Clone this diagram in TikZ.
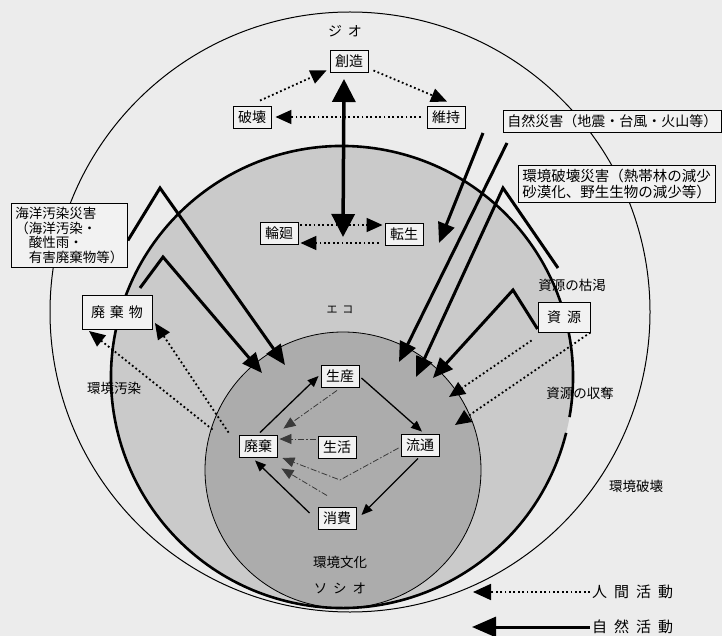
\documentclass[tikz,border=0pt]{standalone}
\usepackage{fontspec}
\setmainfont{Noto Sans CJK JP}
\usetikzlibrary{arrows.meta}
\pgfdeclarelayer{bglayer}
\pgfsetlayers{bglayer,main}
\definecolor{paper}{HTML}{ECECEC}
\definecolor{ecofill}{HTML}{CACACA}
\definecolor{sociofill}{HTML}{ACACAC}
\definecolor{boxfill}{HTML}{F2F2F2}
\definecolor{lifeline}{HTML}{3A3A3A}
\begin{document}
\begin{tikzpicture}[x=1pt,y=-1pt,
  box/.style={draw=black, line width=0.9pt, fill=boxfill, font=\fontsize{14}{16}\selectfont, inner xsep=5pt, inner ysep=2pt, minimum height=22pt},
  tbox/.style={draw=black, line width=0.9pt, fill=boxfill, align=left, inner xsep=4pt, inner ysep=3pt},
  lbl/.style={font=\fontsize{13.5}{15}\selectfont, inner sep=0pt},
  hum/.style={line width=1.8pt, dash pattern=on 1.8pt off 2.6pt, -{Triangle[length=16pt,width=14pt]}},
  nat/.style={line width=3pt, line join=miter, -{Triangle[length=20pt,width=17pt]}},
  cyc/.style={line width=1.3pt, -{Triangle[length=11pt,width=9pt]}},
  life/.style={line width=0.8pt, draw=lifeline, dash pattern=on 6pt off 2pt on 1.5pt off 2pt, -{Triangle[length=12pt,width=10pt]}},
]
\useasboundingbox (0,0) rectangle (722,636);
\clip (0,0) rectangle (722,636);

% nodes
\node[box] (sozo) at (349,61) {創造};
\node[box] (hakai) at (252,117) {破壊};
\node[box] (iji) at (446,117) {維持};
\node[box] (rinne) at (279,233) {輪廻};
\node[box] (tensei) at (404,234) {転生};
\node[box] (seisan) at (340,376) {生産};
\node[box] (seikatsu) at (337,447) {生活};
\node[box] (haiki) at (258,446) {廃棄};
\node[box] (ryutsu) at (420,445) {流通};
\node[box] (shohi) at (337,518) {消費};
\node[box, minimum height=34pt, minimum width=70pt] (haikibutsu) at (117,312) {廃\hspace{5pt}棄\hspace{5pt}物};
\node[box, minimum height=30pt, minimum width=52pt] (shigen) at (564,317) {資\hspace{6pt}源};
\node[tbox, anchor=west, minimum height=22pt, font=\fontsize{14}{16}\selectfont] (shizen) at (503,121) {自然災害（地震・台風・火山等）};
\node[tbox, anchor=north west, minimum height=37pt, font=\fontsize{14.5}{15.5}\selectfont] (kankyo) at (518,165) {環境破壊災害（熱帯林の減少\\砂漠化、野生生物の減少等）};
\node[tbox, anchor=north west, minimum width=116pt, minimum height=64pt, font=\fontsize{13.5}{14.5}\selectfont] (kaiyo) at (11,203) {海洋汚染災害\\（海洋汚染・\\\hspace*{1em}酸性雨・\\\hspace*{1em}有害廃棄物等）};

% text labels
\node[lbl, font=\fontsize{14}{16}\selectfont] (geo) at (345,31) {ジ\hspace{6pt}オ};
\node[lbl, font=\fontsize{11}{13}\selectfont] (eco) at (340,310) {エ\hspace{5pt}コ};
\node[lbl] (bunka) at (340,562) {環境文化};
\node[lbl] (socio) at (340,588) {ソ\hspace{6pt}シ\hspace{6pt}オ};
\node[lbl] (kokatsu) at (572,285) {資源の枯渇};
\node[lbl] (shudatsu) at (580,393) {資源の収奪};
\node[lbl] (hakaiL) at (636,486) {環境破壊};
\node[lbl] (osen) at (114,388) {環境汚染};
\node[lbl, font=\fontsize{15}{17}\selectfont, anchor=west] (legH) at (592,592) {人\hspace{7pt}間\hspace{7pt}活\hspace{7pt}動};
\node[lbl, font=\fontsize{15}{17}\selectfont, anchor=west] (legN) at (592,627) {自\hspace{7pt}然\hspace{7pt}活\hspace{7pt}動};

% coordinates for free ends
\coordinate (bigtop) at (344,79);
\coordinate (bigbot) at (343,237);
\coordinate (aPeak) at (160,188);
\coordinate (aTip) at (285,365);
\coordinate (bStart) at (140,288);
\coordinate (bPeak) at (163,257);
\coordinate (bTip) at (262,373);
\coordinate (l1Start) at (483,133);
\coordinate (l1Tip) at (439,243);
\coordinate (l2Start) at (507,143);
\coordinate (l2Tip) at (399,362);
\coordinate (l3Start) at (558,268);
\coordinate (l3Peak) at (503,188);
\coordinate (l3Tip) at (416,377);
\coordinate (l4Peak) at (513,290);
\coordinate (l4Tip) at (433,378);
\coordinate (d1Tip) at (155,323);
\coordinate (d2Tip) at (89,331);
\coordinate (r1Tip) at (455,425);
\coordinate (r2Tip) at (449,397);
\coordinate (legHtip) at (473,592);
\coordinate (legNtip) at (472,627);
\coordinate (bendR) at (340,480);

\begin{pgfonlayer}{bglayer}
\fill[paper] (0,0) rectangle (722,636);
% spheres
\draw[line width=1pt] (350,312) circle[radius=300];
\fill[ecofill] (342,377) circle[radius=231];
\fill[sociofill] (343,470) circle[radius=138];
\draw[line width=0.8pt] (343,470) circle[radius=138];
\draw[line width=2.6pt] ([shift={(14:231)}]342,377) arc[start angle=14, end angle=370, radius=231];

% natural activity (solid thick)
\draw[line width=3.5pt, {Triangle[length=23pt,width=23pt]}-{Triangle[length=23pt,width=23pt]}] (bigtop) -- (bigbot);
\draw[nat] ([yshift=-5pt]kaiyo.east) -- (aPeak) -- (aTip);
\draw[nat] (bStart) -- (bPeak) -- (bTip);
\draw[nat] (l1Start) -- (l1Tip);
\draw[nat] (l2Start) -- (l2Tip);
\draw[nat] (l3Start) -- (l3Peak) -- (l3Tip);
\draw[nat] ([yshift=-12pt]shigen.west) -- (l4Peak) -- (l4Tip);

% human activity (dotted)
\draw[hum] ([shift={(8,-5)}]hakai.north) -- ([shift={(-3,-2)}]sozo.south west);
\draw[hum] ([shift={(5,-2)}]sozo.south east) -- ([shift={(1,-4)}]iji.north);
\draw[hum] ([shift={(-6,0)}]iji.west) -- ([shift={(4,0)}]hakai.east);
\draw[hum] ([shift={(2,-8)}]rinne.east) -- ([shift={(-2,-9)}]tensei.west);
\draw[hum] ([shift={(-6,9)}]tensei.west) -- ([shift={(2,10)}]rinne.east);
\draw[hum] ([shift={(-10,-2)}]haiki.north west) -- (d1Tip);
\draw[hum] ([shift={(-26,-5)}]haiki.north west) -- (d2Tip);
\draw[hum] (shigen.south east) -- (r1Tip);
\draw[hum] ([shift={(-6,8)}]shigen.south west) -- (r2Tip);

% production cycle
\draw[cyc] ([shift={(2,-2)}]haiki.north) -- ([shift={(-2,0)}]seisan.west);
\draw[cyc] ([shift={(2,2)}]seisan.east) -- ([shift={(2,-2)}]ryutsu.north);
\draw[cyc] ([shift={(-2,2)}]ryutsu.south) -- ([shift={(5,-3)}]shohi.east);
\draw[cyc] ([shift={(-8,-5)}]shohi.west) -- ([shift={(-3,3)}]haiki.south);

% life connections
\draw[life] ([shift={(-3,3)}]seisan.south) -- ([shift={(6,-6)}]haiki.north east);
\draw[life] ([shift={(-2,-8)}]seikatsu.west) -- ([shift={(2,-7)}]haiki.east);
\draw[life] ([shift={(-2,3)}]ryutsu.west) -- (bendR) -- ([shift={(5,12)}]haiki.east);
\draw[life] ([shift={(-10,-11)}]shohi.north) -- ([shift={(4,11)}]haiki.south east);

% legend
\draw[hum, -{Triangle[length=18pt,width=16pt]}] ([xshift=-2pt]legH.west) -- (legHtip);
\draw[line width=3pt, -{Triangle[length=24pt,width=20pt]}] ([xshift=-2pt]legN.west) -- (legNtip);
\end{pgfonlayer}
\end{tikzpicture}
\end{document}
